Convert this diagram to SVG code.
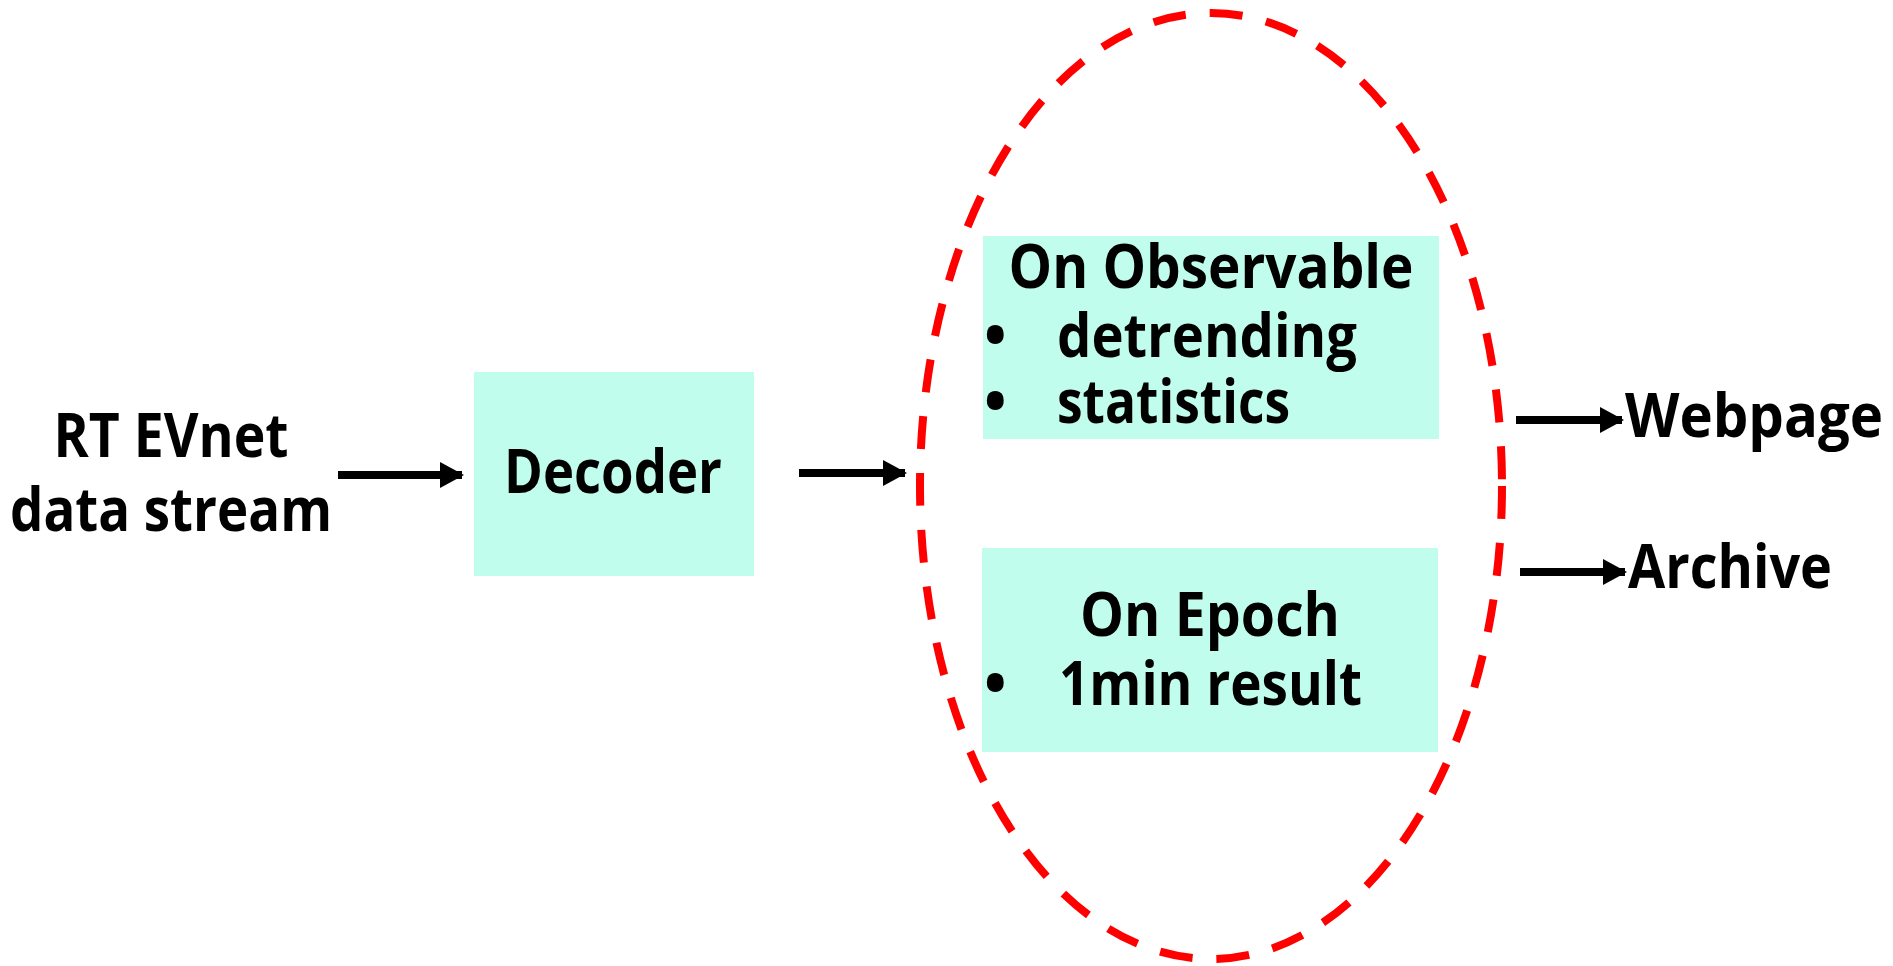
<svg xmlns="http://www.w3.org/2000/svg" width="1893" height="966" viewBox="0 0 1893 966">
<style>
.t{font-family:"Open Sans","Noto Sans","Liberation Sans",sans-serif;font-weight:bold;font-size:60px;fill:#000}
.box{fill:#C1FDEC}
.ln{stroke:#000;stroke-width:8;fill:none}
</style>
<defs>
<marker id="ah" markerWidth="24" markerHeight="26" refX="22" refY="13" markerUnits="userSpaceOnUse" orient="auto">
<path d="M0,0 L24,13 L0,26 Z" fill="#000"/>
</marker>
</defs>
<rect width="1893" height="966" fill="#fff"/>
<g id="source">
<text class="t" x="171" y="457" text-anchor="middle" textLength="235" lengthAdjust="spacingAndGlyphs">RT EVnet</text>
<text class="t" x="171" y="531" text-anchor="middle" textLength="322" lengthAdjust="spacingAndGlyphs">data stream</text>
</g>
<g id="decoder">
<rect class="box" x="474" y="372" width="280" height="204"/>
<text class="t" x="613" y="493" text-anchor="middle" textLength="218" lengthAdjust="spacingAndGlyphs">Decoder</text>
</g>
<g id="processing">
<ellipse cx="1211" cy="486" rx="291" ry="473" fill="none" stroke="#FF0000" stroke-width="8" stroke-dasharray="33 24"/>
</g>
<g id="observable">
<rect class="box" x="983" y="236" width="456" height="203"/>
<text class="t" x="1211" y="288" text-anchor="middle" textLength="405" lengthAdjust="spacingAndGlyphs">On Observable</text>
<text class="t" x="984" y="357">•</text>
<text class="t" x="1057" y="357" textLength="300" lengthAdjust="spacingAndGlyphs">detrending</text>
<text class="t" x="984" y="423">•</text>
<text class="t" x="1057" y="423" textLength="233" lengthAdjust="spacingAndGlyphs">statistics</text>
</g>
<g id="epoch">
<rect class="box" x="982" y="548" width="456" height="204"/>
<text class="t" x="1210" y="636" text-anchor="middle" textLength="260" lengthAdjust="spacingAndGlyphs">On Epoch</text>
<text class="t" x="984" y="705">•</text>
<text class="t" x="1059" y="705" textLength="303" lengthAdjust="spacingAndGlyphs">1min result</text>
</g>
<g id="webpage">
<text class="t" x="1625" y="437" textLength="258" lengthAdjust="spacingAndGlyphs">Webpage</text>
</g>
<g id="archive">
<text class="t" x="1628" y="588" textLength="204" lengthAdjust="spacingAndGlyphs">Archive</text>
</g>
<g id="connectors">
<line class="ln" x1="338" y1="475" x2="462" y2="475" marker-end="url(#ah)"/>
<line class="ln" x1="799" y1="473" x2="905" y2="473" marker-end="url(#ah)"/>
<line class="ln" x1="1516" y1="420" x2="1622" y2="420" marker-end="url(#ah)"/>
<line class="ln" x1="1520" y1="572" x2="1625" y2="572" marker-end="url(#ah)"/>
</g>
</svg>
